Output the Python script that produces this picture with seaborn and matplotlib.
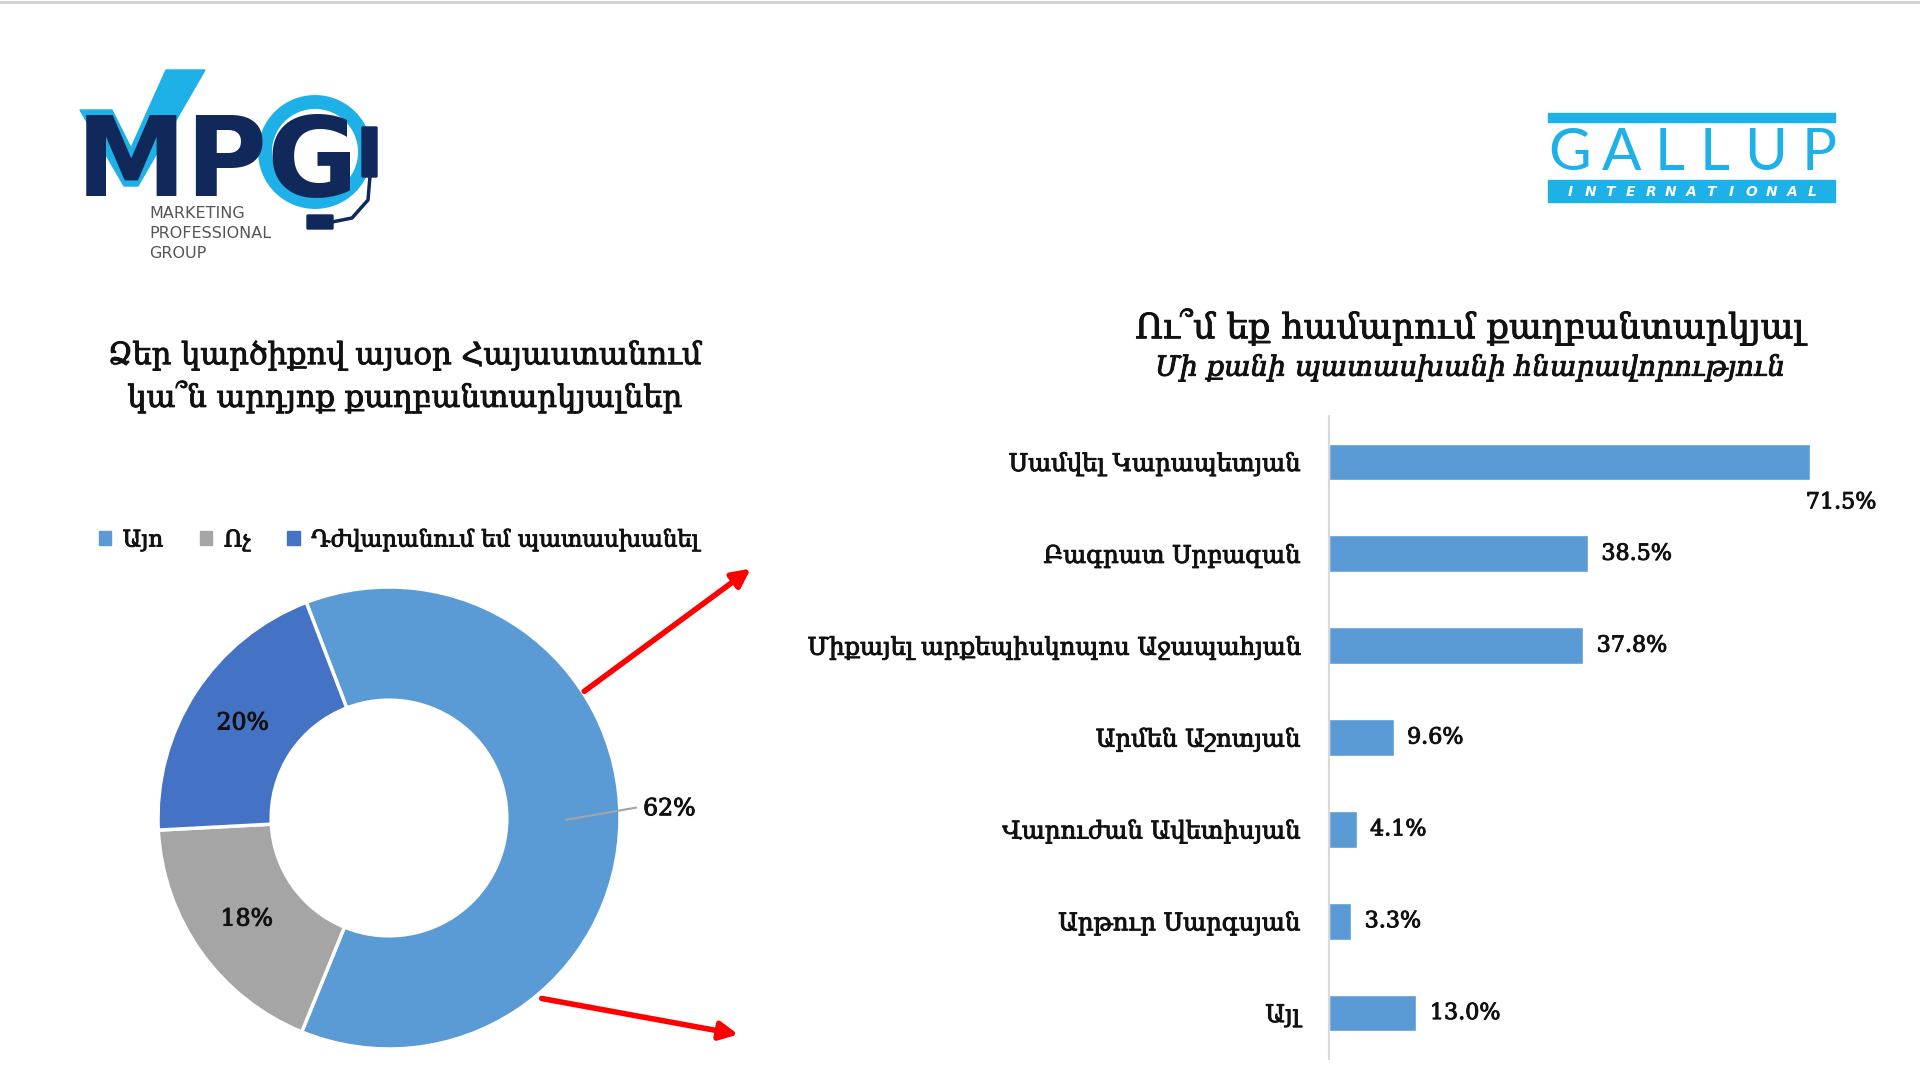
import numpy as np
import matplotlib
matplotlib.use("Agg")
import matplotlib.pyplot as plt
import matplotlib.patches as mpatches
import matplotlib.patheffects as pe
import seaborn as sns

# ---- data ----
pie_labels = ["Այո", "Ոչ", "Դժվարանում եմ պատասխանել"]
pie_values = [62, 18, 20]
pie_colors = ["#5B9BD5", "#A5A5A5", "#4472C4"]

bar_names = ["Սամվել Կարապետյան", "Բագրատ Սրբազան", "Միքայել արքեպիսկոպոս Աջապահյան",
             "Արմեն Աշոտյան", "Վարուժան Ավետիսյան", "Արթուր Սարգսյան", "Այլ"]
bar_values = [71.5, 38.5, 37.8, 9.6, 4.1, 3.3, 13.0]
bar_color = "#5B9BD5"

left_title = "Ձեր կարծիքով այսօր Հայաստանում\nկա՞ն արդյոք քաղբանտարկյալներ"
right_title = "Ու՞մ եք համարում քաղբանտարկյալ"
right_subtitle = "Մի քանի պատասխանի հնարավորություն"

sns.set_theme(style="white")
plt.rcParams["font.family"] = ["DejaVu Serif", "DejaVu Sans"]

W, H = 1920, 1080
fig = plt.figure(figsize=(19.2, 10.8), dpi=100)
fig.patch.set_facecolor("white")

# slightly heavier strokes, the original font is darker than DejaVu Serif
heavy = [pe.withStroke(linewidth=0.7, foreground="#111111")]


def fx(x):
    return x / W


def fy(y):
    return 1 - y / H


# ---- donut ----
cx, cy, r = 389, 818, 231
axp = fig.add_axes([fx(cx - r), fy(cy + r), 2 * r / W, 2 * r / H])
wedges, _ = axp.pie(pie_values, colors=pie_colors, startangle=111, counterclock=False,
                    wedgeprops=dict(width=0.49, edgecolor="white", linewidth=2.5))
axp.set_xlim(-1, 1)
axp.set_ylim(-1, 1)
axp.axis("off")
for i, w in enumerate(wedges):
    mid = np.deg2rad((w.theta1 + w.theta2) / 2)
    if i == 0:
        x0, y0 = 0.766 * np.cos(mid), 0.766 * np.sin(mid)
        axp.plot([x0, 1.07], [y0, 0.045], color="#A5A5A5", lw=1.5, clip_on=False)
        axp.text(1.1, 0.04, f"{pie_values[i]}%", ha="left", va="center", fontsize=17,
                 color="#111111", path_effects=heavy)
    else:
        axp.text(0.755 * np.cos(mid), 0.755 * np.sin(mid), f"{pie_values[i]}%",
                 ha="center", va="center", fontsize=17, color="#111111",
                 path_effects=heavy)

handles = [mpatches.Patch(color=c) for c in pie_colors]
leg = fig.legend(handles, pie_labels, loc="center left", bbox_to_anchor=(fx(78), fy(540)),
                 ncol=3, frameon=False, fontsize=16.5, handlelength=0.55, handleheight=0.55,
                 handletextpad=0.5, columnspacing=1.6)
for t in leg.get_texts():
    t.set_color("#111111")
    t.set_path_effects(heavy)

fig.text(fx(404), fy(377), left_title, ha="center", va="center", fontsize=22,
         linespacing=1.35, color="#111111", path_effects=heavy)

# ---- bars ----
axb = fig.add_axes([fx(1329), fy(1059), 538 / W, 643 / H])
sns.barplot(x=bar_values, y=bar_names, orient="h", color=bar_color, saturation=1,
            width=0.4, ax=axb)
axb.set_xlim(0, 80)
axb.set_ylim(6.5, -0.5)
axb.set_xlabel("")
axb.set_ylabel("")
axb.set_xticks([])
for s in ["top", "right", "bottom"]:
    axb.spines[s].set_visible(False)
axb.spines["left"].set_color("#D9D9D9")
axb.spines["left"].set_linewidth(1.5)
axb.tick_params(axis="y", length=0, pad=21, labelsize=17.5, labelcolor="#111111")
for t in axb.get_yticklabels():
    t.set_path_effects(heavy)
for i, v in enumerate(bar_values):
    if i == 0:
        axb.text(v - 0.6, i + 0.44, f"{v:.1f}%", ha="left", va="center", fontsize=16,
                 color="#111111", path_effects=heavy)
    else:
        axb.text(v + 2.0, i, f"{v:.1f}%", ha="left", va="center", fontsize=16,
                 color="#111111", path_effects=heavy)

fig.text(fx(1470), fy(327), right_title, ha="center", va="center", fontsize=25,
         color="#111111", path_effects=heavy)
fig.text(fx(1470), fy(368), right_subtitle, ha="center", va="center", fontsize=20,
         style="italic", color="#111111", path_effects=heavy)

# ---- decorations: logos, arrows, top rule ----
cv = fig.add_axes([0, 0, 1, 1], zorder=5)
cv.set_xlim(0, W)
cv.set_ylim(H, 0)
cv.axis("off")
cv.plot([0, W], [2, 2], color="#D0D0D0", lw=2)

navy = "#10295A"
cyan = "#1DB1E8"
cv.add_patch(mpatches.Circle((315, 152), 50, fill=False, ec=cyan, lw=10))
cv.text(76, 196, "MPG", fontsize=80, fontweight="heavy", family="DejaVu Sans",
        color=navy, va="baseline", ha="left")
cv.add_patch(mpatches.Polygon([(80, 110), (112, 110), (131, 148), (166, 70), (205, 70),
                               (138, 186), (124, 186)], closed=True, color=cyan))
cv.add_patch(mpatches.FancyBboxPatch((363, 128), 13, 48, boxstyle="round,pad=1",
                                     color=navy))
cv.plot([370, 368, 352, 332], [176, 200, 218, 222], color=navy, lw=2.5,
        solid_capstyle="round")
cv.add_patch(mpatches.FancyBboxPatch((308, 216), 24, 12, boxstyle="round,pad=1",
                                     color=navy))
for k, word in enumerate(["MARKETING", "PROFESSIONAL", "GROUP"]):
    cv.text(149, 213 + k * 20.5, word, fontsize=11.5, family="DejaVu Sans",
            color="#555555", va="center", ha="left")

cv.add_patch(mpatches.Rectangle((1548, 113), 287, 9, color=cyan))
cv.add_patch(mpatches.Rectangle((1548, 180), 287, 22, color=cyan))
for ch, x in zip("GALLUP", [1570, 1622, 1670, 1715, 1766, 1819]):
    cv.text(x, 153, ch, fontsize=42, family="Lato", fontweight="normal", color=cyan,
            ha="center", va="center")
for k, ch in enumerate("INTERNATIONAL"):
    cv.text(1570 + k * 20.2, 191.5, ch, fontsize=10, family="DejaVu Sans",
            fontweight="bold", style="italic", color="white", ha="center", va="center")

arrow_kw = dict(arrowstyle="-|>,head_length=0.9,head_width=0.45", color="#FF0000", lw=4)
cv.annotate("", xy=(753, 567), xytext=(582, 693), arrowprops=arrow_kw)
cv.annotate("", xy=(741, 1035), xytext=(539, 998), arrowprops=arrow_kw)

fig.savefig("out.png", dpi=100, facecolor="white")
